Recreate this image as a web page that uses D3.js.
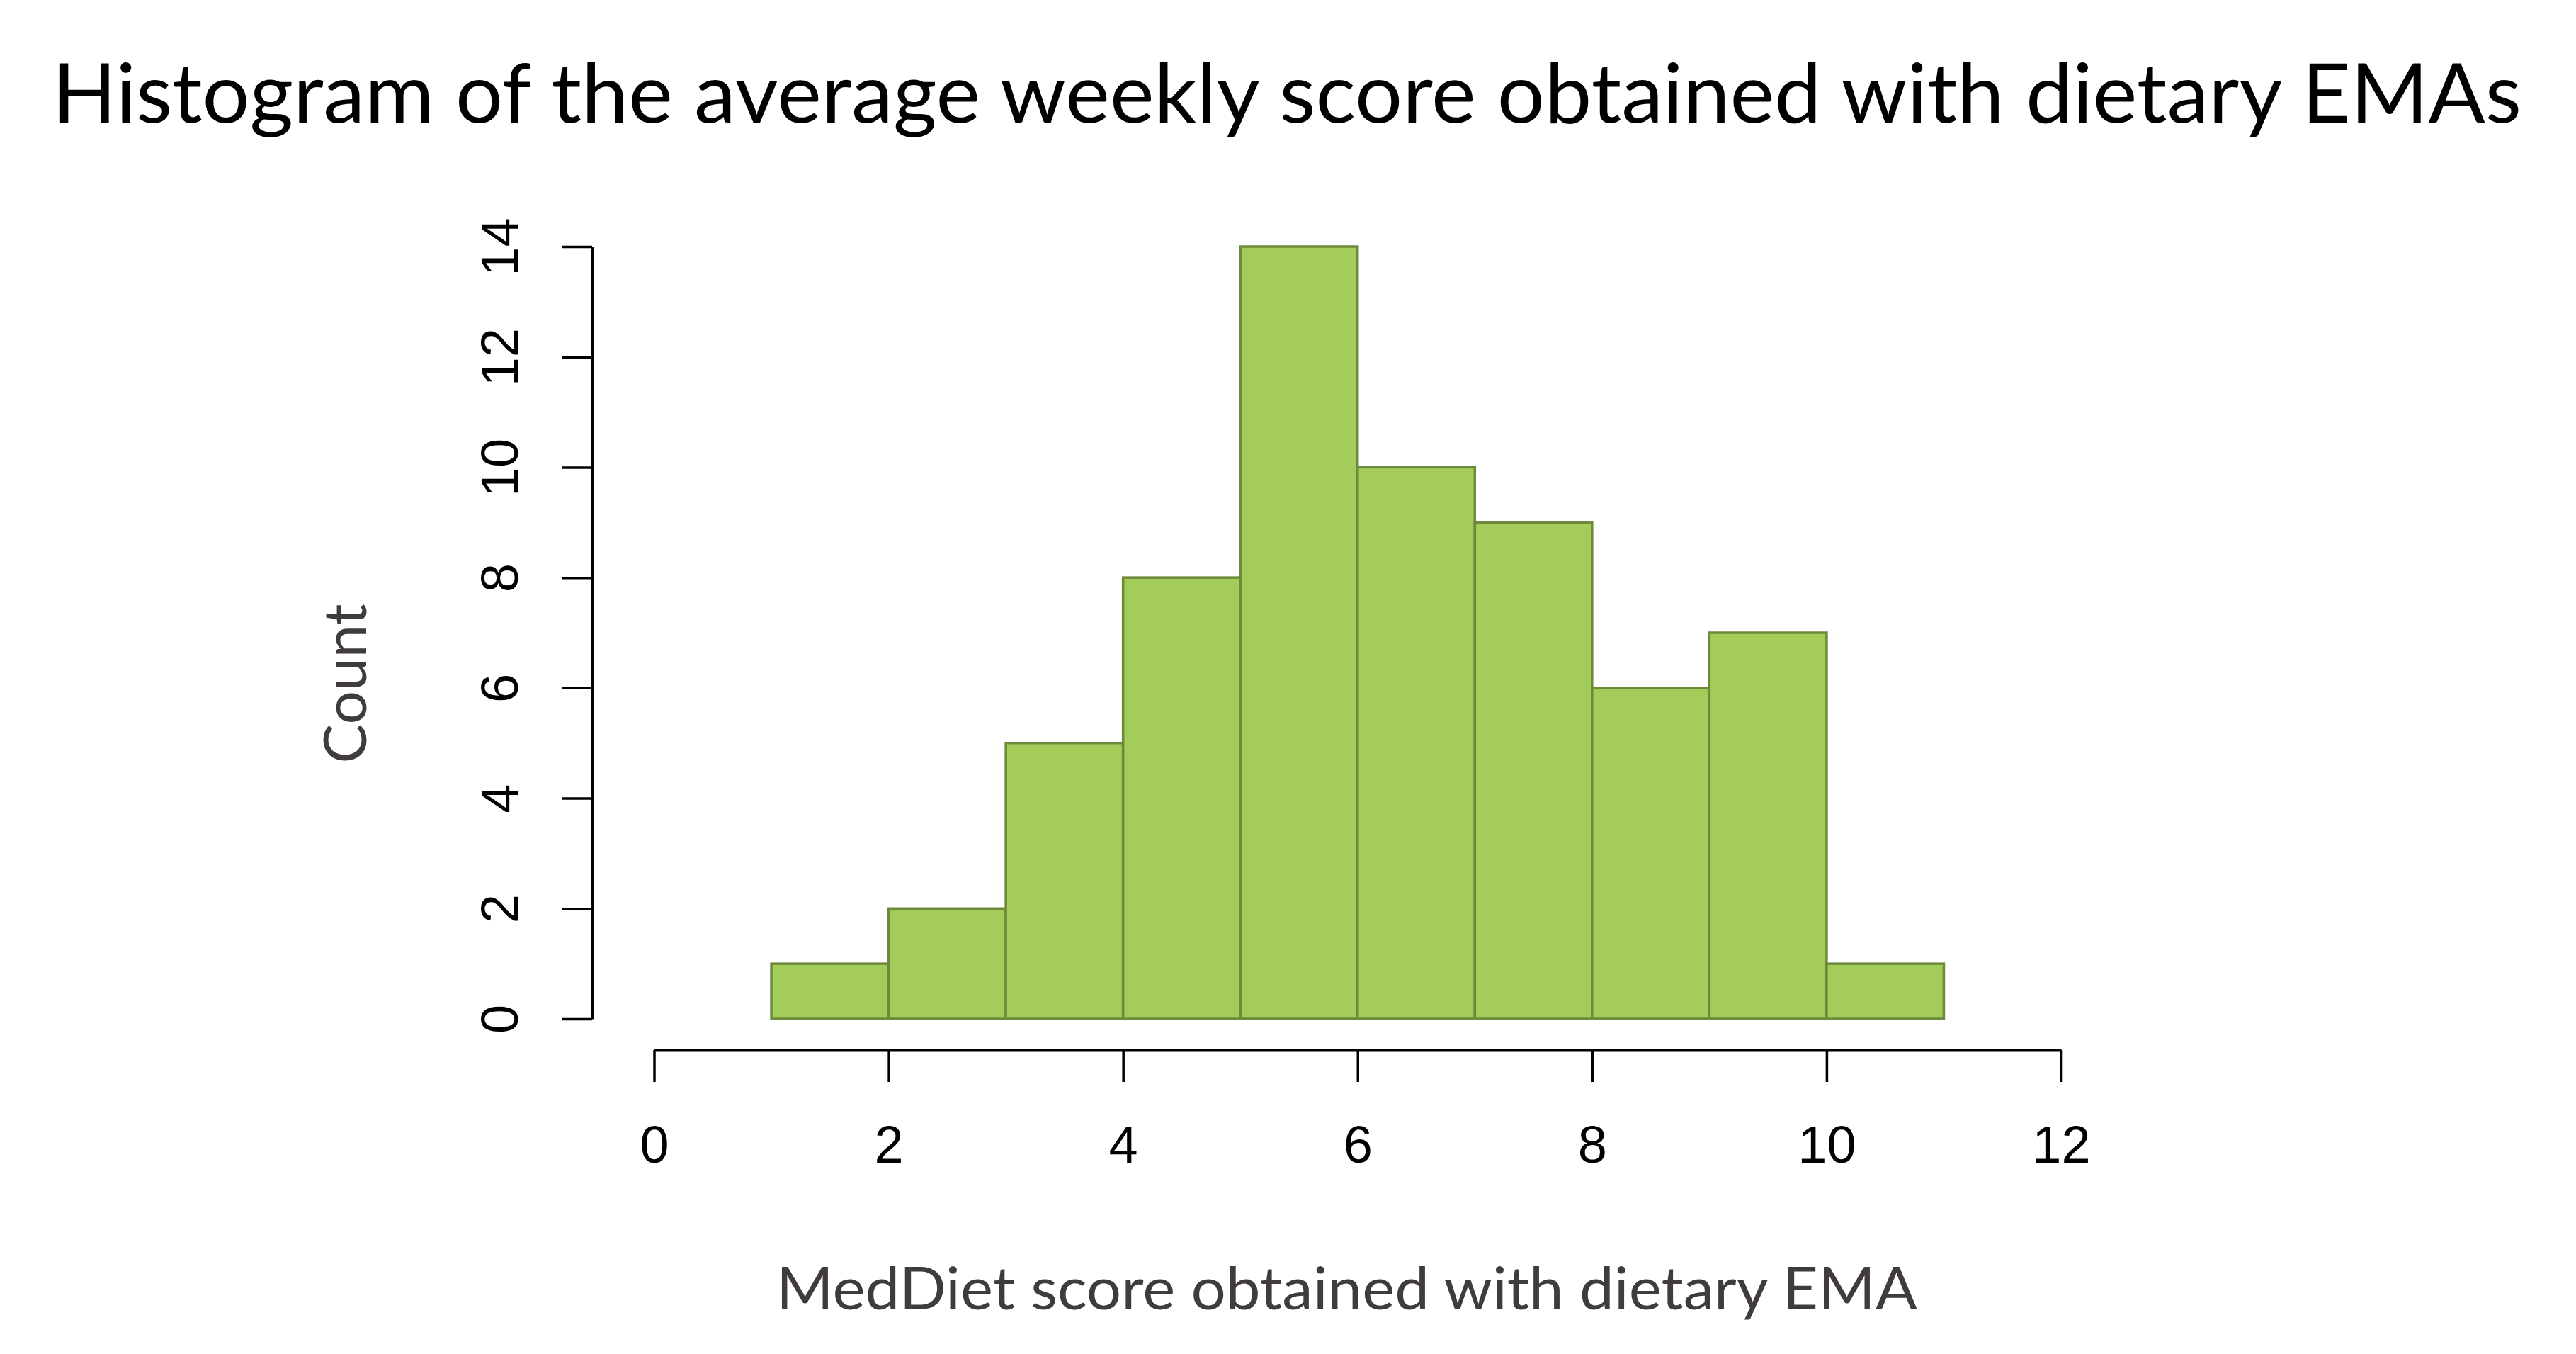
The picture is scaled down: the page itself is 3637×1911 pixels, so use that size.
<!DOCTYPE html>
<html>
<head>
<meta charset="utf-8">
<script src="https://cdn.jsdelivr.net/npm/d3@7"></script>
<style>
  html, body { margin: 0; padding: 0; background: #fff; }
  svg { display: block; }
</style>
</head>
<body>
<svg id="chart" width="3637" height="1911"></svg>
<script>
// histogram bins (left edge, right edge) and counts
const binStarts = [1, 2, 3, 4, 5, 6, 7, 8, 9, 10];
const binEnds = [2, 3, 4, 5, 6, 7, 8, 9, 10, 11];
const counts = [1, 2, 5, 8, 14, 10, 9, 6, 7, 1];
const xTicks = [0, 2, 4, 6, 8, 10, 12];
const yTicks = [0, 2, 4, 6, 8, 10, 12, 14];

const titleText = 'Histogram of the average weekly score obtained with dietary EMAs';
const xLabel = 'MedDiet score obtained with dietary EMA';
const yLabel = 'Count';

const svg = d3.select('#chart');

const x = d3.scaleLinear().domain([0, 12]).range([923.5, 2910]);
const y = d3.scaleLinear().domain([0, 14]).range([1438, 348]);

const labelFont = 'Lato, "Open Sans", sans-serif';
const tickFont = '"Liberation Sans", Arial, sans-serif';

// title
svg.append('text')
  .attr('x', 1817)
  .attr('y', 173)
  .attr('text-anchor', 'middle')
  .attr('font-family', labelFont)
  .attr('font-size', 117)
  .attr('fill', '#000')
  .attr('textLength', 3486)
  .attr('lengthAdjust', 'spacingAndGlyphs')
  .text(titleText);

// bars
const bins = binStarts.map((s, i) => ({ x0: s, x1: binEnds[i], n: counts[i] }));
svg.append('g')
  .selectAll('rect')
  .data(bins)
  .join('rect')
  .attr('x', d => x(d.x0))
  .attr('y', d => y(d.n))
  .attr('width', d => x(d.x1) - x(d.x0))
  .attr('height', d => y(0) - y(d.n))
  .attr('fill', '#a3cc5b')
  .attr('stroke', '#6d8a3b')
  .attr('stroke-width', 3.5);

// x axis
const gx = svg.append('g')
  .attr('transform', 'translate(0,1482)')
  .call(d3.axisBottom(x).tickValues(xTicks).tickSize(45).tickSizeOuter(0).tickPadding(0));
gx.select('.domain').attr('stroke', '#000').attr('stroke-width', 4);
gx.selectAll('.tick line').attr('stroke', '#000').attr('stroke-width', 3.5);
gx.selectAll('.tick text')
  .attr('y', 159)
  .attr('dy', 0)
  .attr('font-family', tickFont)
  .attr('font-size', 74)
  .attr('fill', '#000');

// y axis
const gy = svg.append('g')
  .attr('transform', 'translate(836,0)')
  .call(d3.axisLeft(y).tickValues(yTicks).tickSize(43).tickSizeOuter(0));
gy.select('.domain').attr('stroke', '#000').attr('stroke-width', 4);
gy.selectAll('.tick line').attr('stroke', '#000').attr('stroke-width', 3.5);
gy.selectAll('.tick text')
  .attr('x', 0)
  .attr('y', -105)
  .attr('dy', 0)
  .attr('transform', 'rotate(-90)')
  .attr('text-anchor', 'middle')
  .attr('font-family', tickFont)
  .attr('font-size', 74)
  .attr('fill', '#000');

// axis titles
svg.append('text')
  .attr('x', 1901.5)
  .attr('y', 1848)
  .attr('text-anchor', 'middle')
  .attr('font-family', labelFont)
  .attr('font-size', 84)
  .attr('fill', '#403c3b')
  .attr('textLength', 1611)
  .attr('lengthAdjust', 'spacingAndGlyphs')
  .text(xLabel);

svg.append('text')
  .attr('transform', 'translate(517,965) rotate(-90)')
  .attr('text-anchor', 'middle')
  .attr('font-family', labelFont)
  .attr('font-size', 84)
  .attr('fill', '#403c3b')
  .attr('textLength', 225)
  .attr('lengthAdjust', 'spacingAndGlyphs')
  .text(yLabel);
</script>
</body>
</html>
